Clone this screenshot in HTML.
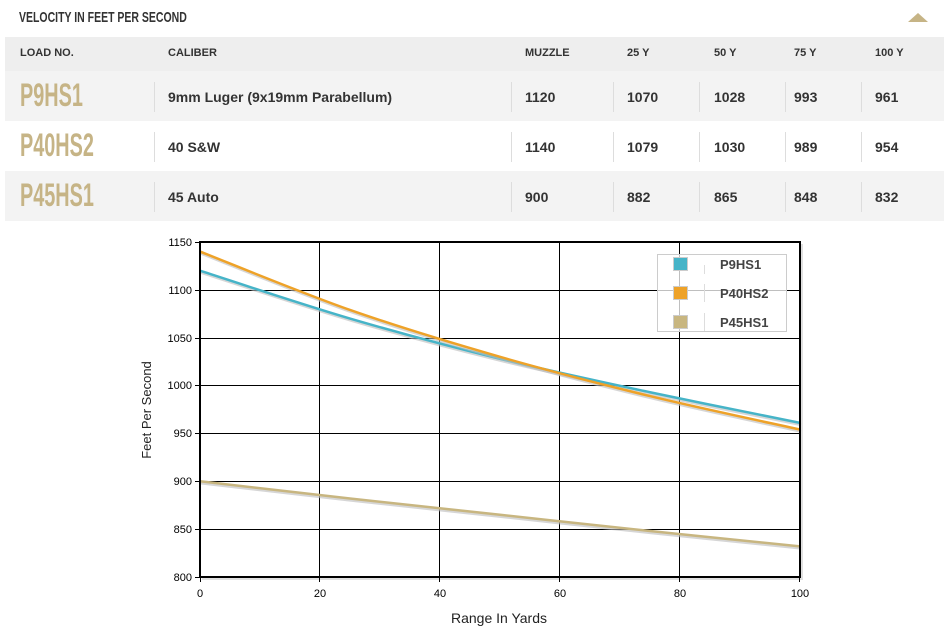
<!DOCTYPE html>
<html><head><meta charset="utf-8"><style>
*{margin:0;padding:0;box-sizing:border-box}
body{width:952px;height:636px;background:#fff;position:relative;overflow:hidden;font-family:"Liberation Sans",sans-serif;color:#333}
.a{position:absolute}
.title{left:19px;top:9px;font:bold 15px "Liberation Sans",sans-serif;color:#333;transform:scaleX(0.7);transform-origin:left;white-space:nowrap}
.row{position:absolute;left:5px;width:939px}
.c{position:absolute;font-weight:bold;font-size:14px;color:#333;white-space:nowrap}
.c.h{font-size:11px;color:#333}
.load{position:absolute;left:15px;font:bold 32px "Liberation Sans",sans-serif;color:#c6b486;transform:scaleX(0.62);transform-origin:left;white-space:nowrap}
.sep{position:absolute;width:1px;background:#ddd;top:11px;height:30px}
</style></head><body>
<div class="a title">VELOCITY IN FEET PER SECOND</div>
<div class="a" style="left:908px;top:13px;width:0;height:0;border-left:10px solid transparent;border-right:10px solid transparent;border-bottom:9px solid #c6b486"></div>

<div class="row" style="top:37px;height:34px;background:#eeeeee">
 <div class="c h" style="left:15px;top:10px">LOAD NO.</div>
 <div class="c h" style="left:163px;top:10px">CALIBER</div>
 <div class="c h" style="left:520px;top:10px">MUZZLE</div>
 <div class="c h" style="left:622px;top:10px">25 Y</div>
 <div class="c h" style="left:709px;top:10px">50 Y</div>
 <div class="c h" style="left:789px;top:10px">75 Y</div>
 <div class="c h" style="left:870px;top:10px">100 Y</div>
</div>

<div class="row" style="top:71px;height:50px;background:#f3f3f3">
 <div class="load" style="top:6px">P9HS1</div>
 <div class="sep" style="left:149px"></div><div class="c" style="left:163px;top:18px">9mm Luger (9x19mm Parabellum)</div>
 <div class="sep" style="left:506px"></div><div class="c" style="left:520px;top:18px">1120</div>
 <div class="sep" style="left:608px"></div><div class="c" style="left:622px;top:18px">1070</div>
 <div class="sep" style="left:694px"></div><div class="c" style="left:709px;top:18px">1028</div>
 <div class="sep" style="left:780px"></div><div class="c" style="left:789px;top:18px">993</div>
 <div class="sep" style="left:856px"></div><div class="c" style="left:870px;top:18px">961</div>
</div>
<div class="row" style="top:121px;height:50px;background:#fff">
 <div class="load" style="top:6px">P40HS2</div>
 <div class="sep" style="left:149px"></div><div class="c" style="left:163px;top:18px">40 S&amp;W</div>
 <div class="sep" style="left:506px"></div><div class="c" style="left:520px;top:18px">1140</div>
 <div class="sep" style="left:608px"></div><div class="c" style="left:622px;top:18px">1079</div>
 <div class="sep" style="left:694px"></div><div class="c" style="left:709px;top:18px">1030</div>
 <div class="sep" style="left:780px"></div><div class="c" style="left:789px;top:18px">989</div>
 <div class="sep" style="left:856px"></div><div class="c" style="left:870px;top:18px">954</div>
</div>
<div class="row" style="top:171px;height:50px;background:#f3f3f3">
 <div class="load" style="top:6px">P45HS1</div>
 <div class="sep" style="left:149px"></div><div class="c" style="left:163px;top:18px">45 Auto</div>
 <div class="sep" style="left:506px"></div><div class="c" style="left:520px;top:18px">900</div>
 <div class="sep" style="left:608px"></div><div class="c" style="left:622px;top:18px">882</div>
 <div class="sep" style="left:694px"></div><div class="c" style="left:709px;top:18px">865</div>
 <div class="sep" style="left:780px"></div><div class="c" style="left:789px;top:18px">848</div>
 <div class="sep" style="left:856px"></div><div class="c" style="left:870px;top:18px">832</div>
</div>

<svg class="a" style="left:0;top:0" width="952" height="636" font-family="Liberation Sans, sans-serif">
 <rect x="202" y="244" width="601" height="336" fill="#ccc" opacity="0.6"/>
 <rect x="200" y="242" width="600" height="335" fill="#fff"/>
 <g stroke="#000" stroke-width="1">
  <line x1="319.5" y1="242" x2="319.5" y2="577"/><line x1="439.5" y1="242" x2="439.5" y2="577"/>
  <line x1="559.5" y1="242" x2="559.5" y2="577"/><line x1="679.5" y1="242" x2="679.5" y2="577"/>
  <line x1="200" y1="290.5" x2="800" y2="290.5"/><line x1="200" y1="338.5" x2="800" y2="338.5"/>
  <line x1="200" y1="385.5" x2="800" y2="385.5"/><line x1="200" y1="433.5" x2="800" y2="433.5"/>
  <line x1="200" y1="481.5" x2="800" y2="481.5"/><line x1="200" y1="529.5" x2="800" y2="529.5"/>
 </g>
 <g stroke="#000" stroke-width="1">
  <line x1="195" y1="242.5" x2="200" y2="242.5"/><line x1="195" y1="290.5" x2="200" y2="290.5"/><line x1="195" y1="338.5" x2="200" y2="338.5"/><line x1="195" y1="385.5" x2="200" y2="385.5"/><line x1="195" y1="433.5" x2="200" y2="433.5"/><line x1="195" y1="481.5" x2="200" y2="481.5"/><line x1="195" y1="529.5" x2="200" y2="529.5"/><line x1="195" y1="577.5" x2="200" y2="577.5"/>
  <line x1="200.5" y1="577" x2="200.5" y2="582"/><line x1="319.5" y1="577" x2="319.5" y2="582"/><line x1="439.5" y1="577" x2="439.5" y2="582"/><line x1="559.5" y1="577" x2="559.5" y2="582"/><line x1="679.5" y1="577" x2="679.5" y2="582"/><line x1="799.5" y1="577" x2="799.5" y2="582"/>
 </g>
 <g id="curves" fill="none" stroke-width="2.5"></g>
 <rect x="200" y="242" width="600" height="335" fill="none" stroke="#000" stroke-width="2"/>
 <g font-size="11" fill="#000" text-anchor="end">
  <text x="192" y="246">1150</text><text x="192" y="294">1100</text><text x="192" y="342">1050</text><text x="192" y="389">1000</text><text x="192" y="437">950</text><text x="192" y="485">900</text><text x="192" y="533">850</text><text x="192" y="581">800</text>
 </g>
 <g font-size="11" fill="#000" text-anchor="middle">
  <text x="200" y="597">0</text><text x="320" y="597">20</text><text x="440" y="597">40</text><text x="560" y="597">60</text><text x="680" y="597">80</text><text x="800" y="597">100</text>
 </g>
 <text x="499" y="623" font-size="14" text-anchor="middle" fill="#222">Range In Yards</text>
 <text transform="translate(151,410) rotate(-90)" font-size="13" text-anchor="middle" fill="#222">Feet Per Second</text>
 <rect x="657.5" y="254.5" width="129" height="77" fill="#fff" fill-opacity="0.75" stroke="#ccc"/>
 <line x1="704.5" y1="265" x2="704.5" y2="274" stroke="#ddd"/><line x1="704.5" y1="284" x2="704.5" y2="302" stroke="#ddd"/><line x1="704.5" y1="313" x2="704.5" y2="331" stroke="#ddd"/>
 <rect x="673.5" y="257.5" width="14" height="13" fill="#46b4c8" stroke="#ccc"/>
 <rect x="673.5" y="286.5" width="14" height="13" fill="#eea228" stroke="#ccc"/>
 <rect x="673.5" y="315.5" width="14" height="13" fill="#c8b680" stroke="#ccc"/>
 <g font-size="13" font-weight="bold" fill="#444"><text x="720" y="269">P9HS1</text><text x="720" y="298">P40HS2</text><text x="720" y="327">P45HS1</text></g>
</svg>
<script>
function path(vals){
 var p=vals.map(function(v,i){return [200+150*i,242+(1150-v)*0.957];});
 var d="M"+p[0][0]+","+p[0][1];
 for(var i=0;i<p.length-1;i++){
  var p0=p[i-1]||p[i],p1=p[i],p2=p[i+1],p3=p[i+2]||p[i+1];
  var c1=[p1[0]+(p2[0]-p0[0])/6,p1[1]+(p2[1]-p0[1])/6];
  var c2=[p2[0]-(p3[0]-p1[0])/6,p2[1]-(p3[1]-p1[1])/6];
  d+=" C"+c1+" "+c2+" "+p2;
 }
 return d;
}
var g=document.getElementById('curves');
[[[1120,1070,1028,993,961],'#46b4c8'],[[1140,1079,1030,989,954],'#eea228'],[[900,882,865,848,832],'#c8b680']].forEach(function(s){
 var sh=document.createElementNS('http://www.w3.org/2000/svg','path');
 sh.setAttribute('d',path(s[0]));sh.setAttribute('stroke','#bbb');sh.setAttribute('transform','translate(1,2)');sh.setAttribute('opacity','0.6');
 g.appendChild(sh);
 var e=document.createElementNS('http://www.w3.org/2000/svg','path');
 e.setAttribute('d',path(s[0]));e.setAttribute('stroke',s[1]);g.appendChild(e);
});
</script>
</body></html>
